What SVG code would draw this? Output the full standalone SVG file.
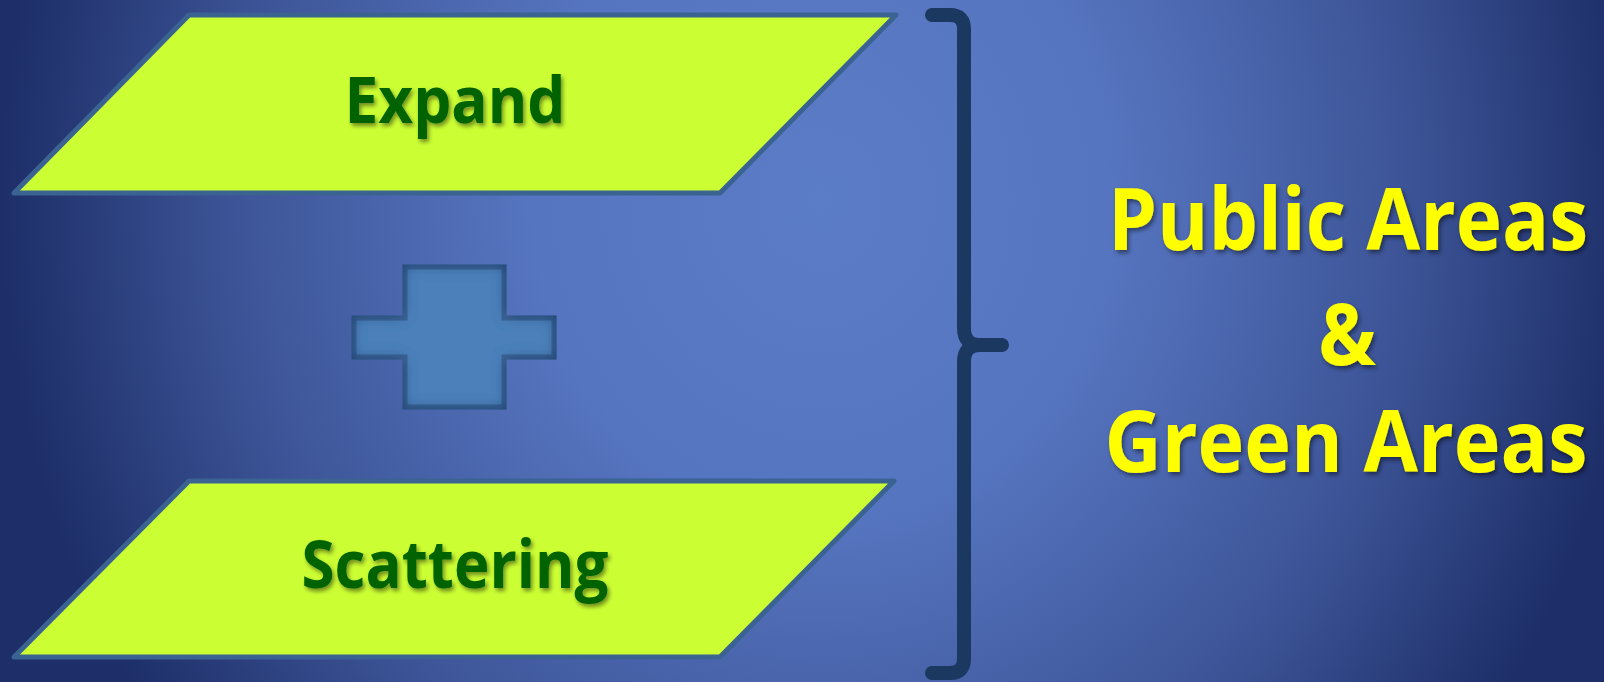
<svg xmlns="http://www.w3.org/2000/svg" width="1604" height="682" viewBox="0 0 1604 682">
<defs>
<radialGradient id="bg" gradientUnits="userSpaceOnUse" cx="820" cy="200" r="820" gradientTransform="translate(820 200) scale(1 1.1) translate(-820 -200)">
<stop offset="0" stop-color="#5b7cc6"/>
<stop offset="0.35" stop-color="#5675c0"/>
<stop offset="0.7" stop-color="#3e5699"/>
<stop offset="1" stop-color="#1d2e68"/>
</radialGradient>
<filter id="ts" x="-10%" y="-20%" width="120%" height="150%">
<feDropShadow dx="2" dy="3" stdDeviation="2" flood-color="#000" flood-opacity="0.45"/>
</filter>
<filter id="inset" x="-10%" y="-10%" width="120%" height="120%">
<feFlood flood-color="#1e3f70" result="c"/>
<feComposite in="c" in2="SourceAlpha" operator="out" result="inv"/>
<feGaussianBlur in="inv" stdDeviation="7" result="b"/>
<feComposite in="b" in2="SourceAlpha" operator="in" result="sh"/>
<feMerge><feMergeNode in="SourceGraphic"/><feMergeNode in="sh"/></feMerge>
</filter>
<style>
.para{fill:#ccff33;stroke:#3b6391;stroke-width:5;stroke-linejoin:round}
.lbl{font-family:"Open Sans","Liberation Sans",sans-serif;font-weight:bold;fill:#006400;text-anchor:middle}
.big{font-family:"Open Sans","Liberation Sans",sans-serif;font-weight:bold;fill:#ffff00;text-anchor:middle;font-size:77px}
.brace{fill:none;stroke:#1a3860;stroke-width:14;stroke-linecap:round;stroke-linejoin:round}
</style>
</defs>
<rect width="1604" height="682" fill="url(#bg)"/>
<g id="expand">
<polygon class="para" points="189,15 896,15 720,193 14,193"/>
<text class="lbl" x="455" y="123" font-size="64" textLength="221" lengthAdjust="spacingAndGlyphs" filter="url(#ts)">Expand</text>
</g>
<g id="plus">
<polygon points="405,267 504,267 504,318 554,318 554,357 504,357 504,407 405,407 405,357 354,357 354,318 405,318" fill="#4c80ba" stroke="#3a6394" stroke-width="5" filter="url(#inset)"/>
</g>
<g id="scattering">
<polygon class="para" points="189,481 894,481 720,657 14,657"/>
<text class="lbl" x="455" y="588" font-size="67" textLength="307" lengthAdjust="spacingAndGlyphs" filter="url(#ts)">Scattering</text>
</g>
<g id="connectors">
<path class="brace" d="M932,15 H950 Q964,15 964,29 V328 Q964,345 980,345 H1002"/>
<path class="brace" d="M932,673 H950 Q964,673 964,659 V362 Q964,345 980,345"/>
</g>
<g id="result" filter="url(#ts)">
<text class="big" transform="translate(1348 250) scale(1 1.13)" x="0" y="0" textLength="480" lengthAdjust="spacingAndGlyphs">Public Areas</text>
<text class="big" transform="translate(1347 365) scale(1 1.13)" x="0" y="0">&amp;</text>
<text class="big" transform="translate(1346 472) scale(1 1.13)" x="0" y="0" textLength="483" lengthAdjust="spacingAndGlyphs">Green Areas</text>
</g>
</svg>
